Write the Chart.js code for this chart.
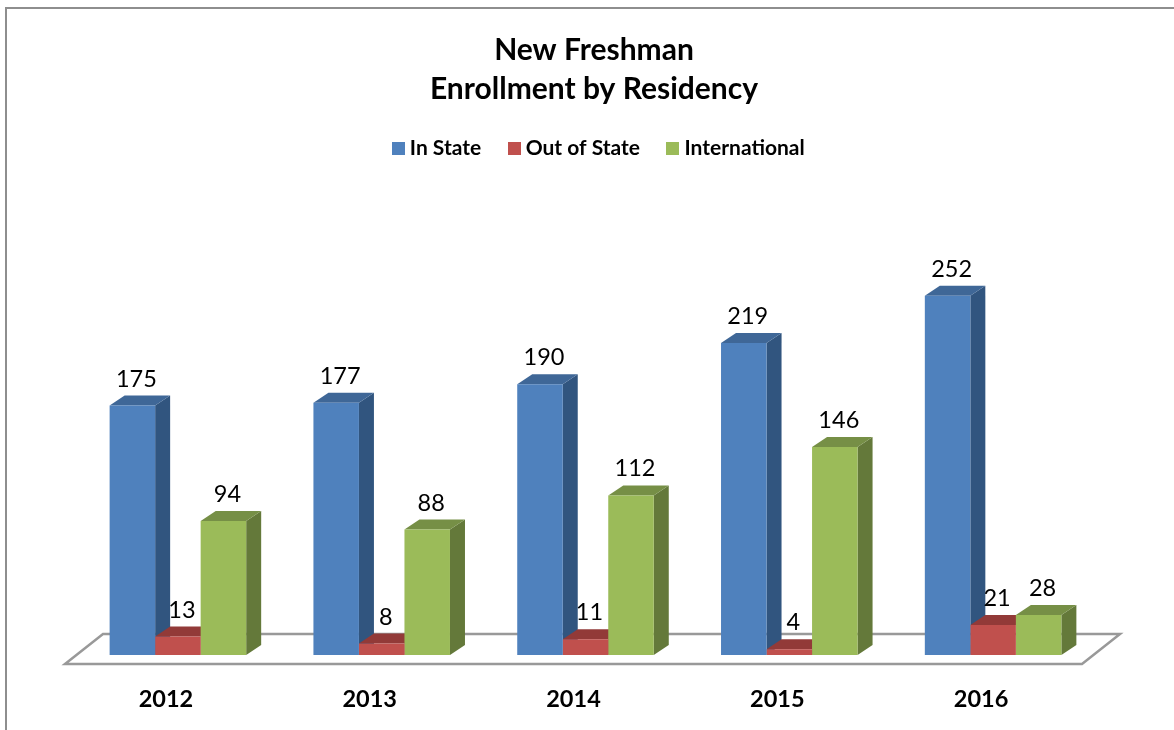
<!DOCTYPE html>
<html>
<head>
<meta charset="utf-8">
<style>html,body{margin:0;padding:0;background:#fff}#w{width:1174px;height:730px;position:relative}</style>
<script src="https://cdn.jsdelivr.net/npm/chart.js@4/dist/chart.umd.min.js"></script>
</head>
<body>
<div id="w"><canvas id="c" width="1174" height="730"></canvas></div>
<script>
const categories = ['2012','2013','2014','2015','2016'];
const inState = [175,177,190,219,252];
const outOfState = [13,8,11,4,21];
const international = [94,88,112,146,28];
const seriesNames = ['In State','Out of State','International'];
const frontColors = ['#4F81BD','#C0504D','#9BBB59'];
const topColors = ['#3F6797','#923A38','#768F46'];
const sideColors = ['#31557F','#8A3331','#64793A'];
const titleLines = ['New Freshman','Enrollment by Residency'];
const FONT = 'Lato';
const DX = 15, DY = 10;

function swatch(color){
  const k = document.createElement('canvas');
  k.width = 13; k.height = 13;
  const g = k.getContext('2d');
  g.fillStyle = color; g.fillRect(0,0,13,13);
  return k;
}
const swatches = frontColors.map(swatch);

const scene = {
  id:'scene',
  afterLayout(chart){
    chart.legend.left += 7; chart.legend.right += 7;
  },
  beforeDraw(chart){
    const c = chart.ctx;
    c.save();
    c.strokeStyle = '#8E8E8E'; c.lineWidth = 2;
    c.beginPath(); c.moveTo(6,730); c.lineTo(6,8); c.lineTo(1174,8); c.stroke();
    c.restore();
  },
  beforeDatasetsDraw(chart){
    const c = chart.ctx, a = chart.chartArea;
    c.save();
    c.strokeStyle = '#999999'; c.lineWidth = 2.5; c.lineJoin = 'miter';
    c.beginPath();
    c.moveTo(a.left-11,a.bottom+9);
    c.lineTo(a.right-13,a.bottom+9);
    c.lineTo(a.right+25,a.bottom-21);
    c.lineTo(a.left+27,a.bottom-21);
    c.closePath(); c.stroke();
    chart.data.datasets.forEach((ds,i)=>{
      chart.getDatasetMeta(i).data.forEach(b=>{
        const l = b.x-b.width/2, r = b.x+b.width/2, t = b.y, bt = b.base;
        c.fillStyle = sideColors[i];
        c.beginPath(); c.moveTo(r,t); c.lineTo(r+DX,t-DY); c.lineTo(r+DX,bt-DY); c.lineTo(r,bt); c.closePath(); c.fill();
        c.fillStyle = topColors[i];
        c.beginPath(); c.moveTo(l,t); c.lineTo(l+DX,t-DY); c.lineTo(r+DX,t-DY); c.lineTo(r,t); c.closePath(); c.fill();
      });
    });
    c.restore();
  },
  afterDatasetsDraw(chart){
    const c = chart.ctx;
    c.save();
    c.font = '23.5px '+FONT; c.fillStyle = '#000'; c.textAlign = 'center'; c.textBaseline = 'middle';
    chart.data.datasets.forEach((ds,i)=>{
      chart.getDatasetMeta(i).data.forEach((b,j)=>{
        c.fillText(String(ds.data[j]), b.x+4, b.y-26.5);
      });
    });
    c.restore();
  }
};

new Chart(document.getElementById('c'),{
  type:'bar',
  data:{
    labels:categories,
    datasets:[inState,outOfState,international].map((d,i)=>({
      label:seriesNames[i], data:d, backgroundColor:frontColors[i], borderWidth:0,
      categoryPercentage:0.67, barPercentage:1
    }))
  },
  options:{
    responsive:false, animation:false,
    layout:{padding:{left:14,right:0,top:0,bottom:0}},
    plugins:{
      tooltip:{enabled:false},
      title:{display:true,text:titleLines,color:'#000',
        font:{family:FONT,size:30,weight:'bold',lineHeight:1.3},
        padding:{top:31,bottom:-3}},
      legend:{position:'top',
        labels:{
          usePointStyle:true,pointStyleWidth:2,padding:32,color:'#000',
          font:{family:FONT,size:21,weight:'bold'},
          generateLabels(chart){
            return Chart.defaults.plugins.legend.labels.generateLabels(chart).map((it,i)=>({...it,pointStyle:swatches[i]}));
          }
        }
      }
    },
    scales:{
      x:{grid:{display:false},border:{display:false},
        ticks:{color:'#000',font:{family:FONT,size:23.5,weight:'bold'},padding:22,labelOffset:-12,maxRotation:0},
        afterFit(s){s.height=75;}},
      y:{min:0,max:341,position:'left',grid:{display:false},border:{display:false},ticks:{display:false},
        afterFit(s){s.width=62;}},
      y2:{position:'right',grid:{display:false},border:{display:false},ticks:{display:false},
        afterFit(s){s.width=79;}}
    }
  },
  plugins:[scene]
});
</script>
</body>
</html>
